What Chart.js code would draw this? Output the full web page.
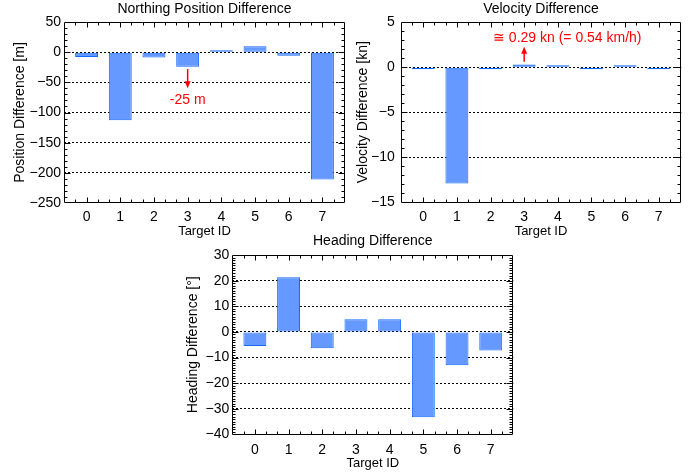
<!DOCTYPE html>
<html>
<head>
<meta charset="utf-8">
<script src="https://cdn.jsdelivr.net/npm/chart.js@4.4.1/dist/chart.umd.min.js"></script>
<style>
  html, body { margin: 0; padding: 0; background: #fff; }
  body { width: 698px; height: 475px; position: relative; overflow: hidden; }
  canvas { position: absolute; }
</style>
</head>
<body>
<canvas id="cA" width="350" height="240" style="left:0px;top:0px;width:350px;height:240px"></canvas>
<canvas id="cB" width="350" height="240" style="left:348px;top:0px;width:350px;height:240px"></canvas>
<canvas id="cC" width="360" height="240" style="left:170px;top:232px;width:360px;height:240px"></canvas>
<script>
// ---------------- data ----------------
const targetIds = ['0', '1', '2', '3', '4', '5', '6', '7'];

const northingDiff = [-8, -113, -9, -24, 3, 10, -6, -211];       // [m]
const velocityDiff = [-0.05, -12.9, -0.12, 0.29, 0.22, -0.15, 0.18, -0.05]; // [kn]
const headingDiff  = [-5.5, 21.3, -6.4, 4.9, 4.9, -33.3, -13, -7.2]; // [deg]

const northingTicks = [-250, -200, -150, -100, -50, 0, 50];
const velocityTicks = [-15, -10, -5, 0, 5];
const headingTicks  = [-40, -30, -20, -10, 0, 10, 20, 30];

const titles = ['Northing Position Difference', 'Velocity Difference', 'Heading Difference'];
const yTitles = ['Position Difference [m]', 'Velocity Difference [kn]', 'Heading Difference [\u00B0]'];
const xTitle = 'Target ID';
// --------------------------------------

const FONT = '"Liberation Sans", Arial, Helvetica, sans-serif';
const fmt = v => (v < 0 ? '\u2212' + Math.abs(v) : String(v));

const framePlugin = {
  id: 'frame',
  afterDatasetsDraw(chart, args, opts) {
    const { ctx, chartArea: a } = chart;
    const x = chart.scales.x, y = chart.scales.y;
    ctx.save();
    ctx.strokeStyle = '#000';
    ctx.lineWidth = 1;
    const L = Math.round(a.left) + 0.5, R = Math.round(a.right) - 0.5;
    const T = Math.round(a.top) + 0.5, B = Math.round(a.bottom) - 0.5;
    ctx.beginPath();
    ctx.rect(L, T, R - L, B - T);
    // y ticks (major + minor), inward on left and right
    const n = Math.round((y.max - y.min) / opts.yMinor);
    for (let i = 1; i < n; i++) {
      const v = y.min + i * opts.yMinor;
      const p = Math.round(y.getPixelForValue(v)) + 0.5;
      const major = opts.yTicks.some(t => Math.abs(t - v) < 1e-6);
      const len = major ? 6 : 3;
      ctx.moveTo(L, p); ctx.lineTo(L + len, p);
      ctx.moveTo(R, p); ctx.lineTo(R - len, p);
    }
    // x ticks: major at integers, minor at thirds
    const k0 = Math.ceil(x.min * 3), k1 = Math.floor(x.max * 3);
    for (let k = k0; k <= k1; k++) {
      const v = k / 3;
      const p = Math.round(x.getPixelForValue(v)) + 0.5;
      if (p - L < 2 || R - p < 2) continue;
      const len = (k % 3 === 0) ? 5 : 3;
      ctx.moveTo(p, B); ctx.lineTo(p, B - len);
      ctx.moveTo(p, T); ctx.lineTo(p, T + len);
    }
    ctx.stroke();
    // annotations
    (opts.annotations || []).forEach(an => {
      const px = x.getPixelForValue(an.x);
      const p1 = y.getPixelForValue(an.y1);
      const p2 = y.getPixelForValue(an.y2);
      const dir = Math.sign(p2 - p1);
      ctx.strokeStyle = '#ff0000';
      ctx.fillStyle = '#ff0000';
      ctx.lineWidth = 1.5;
      ctx.beginPath();
      ctx.moveTo(px, p1);
      ctx.lineTo(px, p2 - dir * 5);
      ctx.stroke();
      ctx.beginPath();
      ctx.moveTo(px, p2);
      ctx.lineTo(px - 3, p2 - dir * 7);
      ctx.lineTo(px + 3, p2 - dir * 7);
      ctx.closePath();
      ctx.fill();
      ctx.font = '14px ' + FONT;
      ctx.textAlign = 'center';
      ctx.textBaseline = 'middle';
      ctx.fillText(an.text, x.getPixelForValue(an.tx), y.getPixelForValue(an.ty));
    });
    ctx.restore();
  }
};

function makeChart(id, values, yTicks, yMinor, title, yTitle, lay, annotations) {
  const canvas = document.getElementById(id);
  const W = canvas.width, H = canvas.height;
  return new Chart(canvas, {
    type: 'bar',
    data: {
      datasets: [{
        data: values.map((v, i) => ({ x: i, y: v })),
        backgroundColor: '#6699ff',
        borderColor: '#1469ff',
        borderWidth: 1,
        borderSkipped: false,
        minBarLength: lay.minBar || 0,
        categoryPercentage: 1,
        barPercentage: 0.68
      }]
    },
    options: {
      responsive: false,
      animation: false,
      devicePixelRatio: 1,
      layout: { padding: { left: 0, top: 0, right: W - lay.r, bottom: 0 } },
      plugins: {
        legend: { display: false },
        tooltip: { enabled: false },
        title: {
          display: true,
          fullSize: false,
          text: title,
          color: '#000',
          font: { family: FONT, size: 14, weight: 'normal', lineHeight: 1.2 },
          padding: { top: lay.titleTop, bottom: lay.t - 16.8 - lay.titleTop }
        },
        frame: { yTicks: yTicks, yMinor: yMinor, annotations: annotations }
      },
      scales: {
        x: {
          type: 'linear',
          min: -0.67,
          max: 7.67,
          offset: false,
          afterBuildTicks: s => { s.ticks = targetIds.map((_, i) => ({ value: i })); },
          afterFit: s => { s.height = H - lay.b; },
          grid: { display: false, drawTicks: false, offset: false },
          border: { display: false },
          ticks: {
            autoSkip: false,
            maxRotation: 0,
            padding: lay.xtp,
            color: '#000',
            font: { family: FONT, size: 14 },
            callback: (v) => targetIds[v]
          },
          title: {
            display: true,
            text: xTitle,
            color: '#000',
            font: { family: FONT, size: 13, lineHeight: 1.2 },
            padding: { top: 0, bottom: lay.xtb }
          }
        },
        y: {
          type: 'linear',
          min: yTicks[0],
          max: yTicks[yTicks.length - 1],
          afterBuildTicks: s => { s.ticks = yTicks.map(v => ({ value: v })); },
          afterFit: s => { s.width = lay.l; },
          grid: {
            drawTicks: false,
            lineWidth: 1,
            color: c => (c.tick && (c.tick.value === yTicks[0] || c.tick.value === yTicks[yTicks.length - 1])) ? 'rgba(0,0,0,0)' : '#000'
          },
          border: { display: false, dash: [2, 2] },
          ticks: {
            padding: lay.ytp,
            color: '#000',
            font: { family: FONT, size: 14 },
            callback: v => fmt(v)
          },
          title: {
            display: true,
            text: yTitle,
            color: '#000',
            font: { family: FONT, size: 14, lineHeight: 1.2 },
            padding: { top: lay.ytt, bottom: 0 }
          }
        }
      }
    },
    plugins: [framePlugin]
  });
}

makeChart('cA', northingDiff, northingTicks, 10, titles[0], yTitles[0],
  { l: 64, t: 22, r: 345, b: 203, titleTop: 0.7, xtp: 6, xtb: 1.2, ytp: 3, ytt: 11.6 },
  [{ x: 3, y1: -28, y2: -60, text: '-25 m', tx: 3, ty: -80 }]);

makeChart('cB', velocityDiff, velocityTicks, 1, titles[1], yTitles[1],
  { l: 52.7, t: 22, r: 333.3, b: 202.5, titleTop: 1.0, xtp: 6, xtb: 1.2, ytp: 6, ytt: 6.6, minBar: 2 },
  [{ x: 3, y1: 0.6, y2: 2.25, text: '\u2245 0.29 kn (= 0.54 km/h)', tx: 4.28, ty: 3.2 }]);

makeChart('cC', headingDiff, headingTicks, 1, titles[2], yTitles[2],
  { l: 62.3, t: 23, r: 343.3, b: 202.5, titleTop: 1.0, xtp: 7, xtb: 0.9, ytp: 3, ytt: 14.3 },
  []);
</script>
</body>
</html>
